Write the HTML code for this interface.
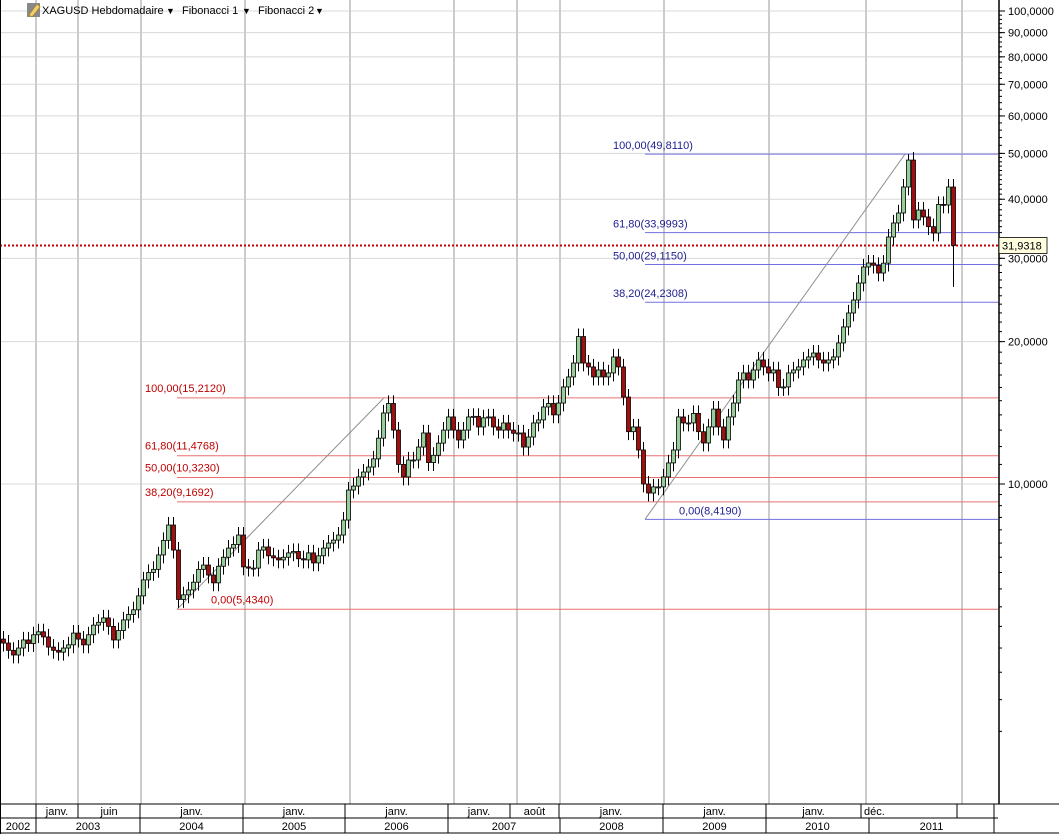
<!DOCTYPE html>
<html><head><meta charset="utf-8">
<style>
html,body{margin:0;padding:0;background:#fff;}
svg{display:block;font-family:"Liberation Sans",sans-serif;}
</style></head>
<body>
<svg id="chart" width="1059" height="834" viewBox="0 0 1059 834" xmlns="http://www.w3.org/2000/svg">
<rect width="1059" height="834" fill="#fff"/>
<g id="grid"></g>
<g id="fibs"></g>
<g id="candles"></g>
<g id="axes"></g>
<g>
  <rect x="27" y="3" width="13" height="14" fill="#888"/>
  <polygon points="29,15 37,4 40,7 32,17" fill="#f0d070" stroke="#b08020" stroke-width="0.7"/>
  <text x="42" y="14" font-size="11" fill="#000">XAGUSD Hebdomadaire</text>
  <text x="166" y="14" font-size="9" fill="#000">▼</text>
  <text x="182" y="14" font-size="11" fill="#000">Fibonacci 1</text>
  <text x="242" y="14" font-size="9" fill="#000">▼</text>
  <text x="258" y="14" font-size="11" fill="#000">Fibonacci 2</text>
  <text x="315" y="14" font-size="9" fill="#000">▼</text>
</g>
</svg>
<script>
// weekly-ish closes (USD/oz), evenly spaced
const closes = [4.61,4.45,4.35,4.5,4.68,4.6,4.8,4.87,4.75,4.52,4.45,4.41,4.5,4.57,4.84,4.7,4.57,4.8,5.03,5.1,
5.21,5.0,4.68,4.9,5.16,5.3,5.42,5.8,6.27,6.5,6.6,7.08,7.6,8.19,7.25,5.7,5.83,5.97,6.2,6.6,
6.74,6.42,6.18,6.7,7.0,7.32,7.45,7.8,6.68,6.64,6.64,7.25,7.36,7.05,6.98,6.91,7.0,7.15,7.2,6.95,
6.91,7.15,6.81,7.05,7.32,7.5,7.61,7.8,8.39,9.71,9.9,10.35,10.6,10.86,11.3,12.5,14.13,14.8,13.0,11.0,
10.35,11.24,11.24,11.97,12.82,11.1,11.5,12.2,13.0,13.86,13.0,12.39,13.0,13.86,13.9,13.2,13.8,13.86,13.2,13.0,
13.46,13.0,12.8,12.82,11.97,12.57,13.46,13.66,14.55,14.8,14.0,14.83,16.04,16.84,18.02,20.5,18.02,17.68,16.84,17.42,
16.84,17.17,18.56,17.68,15.27,12.9,13.2,11.8,10.0,9.57,9.86,9.86,10.35,11.08,11.8,13.86,13.46,13.46,14.1,12.9,
12.21,13.2,14.4,13.2,12.39,13.86,14.83,16.59,17.17,16.59,17.42,18.29,17.68,17.17,17.42,16.0,16.04,17.17,17.42,17.68,
18.29,18.56,18.92,18.29,18.02,18.29,18.56,19.87,21.48,22.99,24.49,26.6,28.76,29.32,29.0,27.93,29.3,33.28,35.63,37.41,
42.45,48.4,36.16,37.95,36.69,35.0,33.93,39.0,38.89,42.45,31.93];
const firstOpen = 4.7;
const lastLow = 26.1;
const peakHigh = 49.811;
const priceTicks = [100,90,80,70,60,50,40,30,20,10];
const tickLabels = ["100,0000","90,0000","80,0000","70,0000","60,0000","50,0000","40,0000","30,0000","20,0000","10,0000"];
const fib1Levels = ["100,00","61,80","50,00","38,20","0,00"];
const fib1Prices = [15.212,11.4768,10.323,9.1692,5.434];
const fib2Levels = ["100,00","61,80","50,00","38,20","0,00"];
const fib2Prices = [49.811,33.9993,29.115,24.2308,8.419];
const lastPrice = 31.9318;
const monthLabels = ["janv.","juin","janv.","janv.","janv.","janv.","août","janv.","janv.","janv.","déc.",""];
const monthBounds = [36,78,140,243,345,448,510,559,663,766,861,957,994];
const yearLabels = ["2002","2003","2004","2005","2006","2007","2008","2009","2010","2011"];
const yearBounds = [0,36,140,243,345,448,560,663,766,869,994];
const gridX = [36,78,141,245,350,454,517,560,664,769,866,962];

const NS="http://www.w3.org/2000/svg";
function y(v){return 484-473*Math.log10(v/10);}
function xi(i){return 1.5+i*5;}
function mk(tag,attrs,parent,txt){const e=document.createElementNS(NS,tag);for(const k in attrs)e.setAttribute(k,attrs[k]);if(txt!==undefined)e.textContent=txt;parent.appendChild(e);return e;}
const grid=document.getElementById('grid'),fibs=document.getElementById('fibs'),cg=document.getElementById('candles'),ax=document.getElementById('axes');
const R=998,B=804;
priceTicks.forEach(v=>{const l=mk('line',{x1:0,x2:R,y1:y(v),y2:y(v),stroke:'#d8d8d8','stroke-width':1},grid);

});
gridX.forEach(x=>{const l=mk('line',{x1:x,x2:x,y1:0,y2:B,stroke:'#cccccc','stroke-width':2},grid);

});
// fib 1
const f1x=177,f1lx=145;
fib1Prices.forEach((p,i)=>{const yy=y(p);
const l=mk('line',{x1:f1x,x2:R,y1:yy,y2:yy,stroke:'#e87070','stroke-width':1},fibs);


const lx=i===4?211:f1lx;
const t=mk('text',{x:lx,y:yy-6,'font-size':11,fill:'#c00000'},fibs,fib1Levels[i]+"("+p.toFixed(4).replace('.',',')+")");

});
const d1=mk('line',{x1:f1x,y1:y(fib1Prices[4]),x2:384,y2:y(fib1Prices[0]),stroke:'#909090','stroke-width':1},fibs);


const f2x=645;
fib2Prices.forEach((p,i)=>{const yy=y(p);
const l=mk('line',{x1:f2x,x2:R,y1:yy,y2:yy,stroke:'#7070e0','stroke-width':1},fibs);


const lx=i===4?679:613;
const t=mk('text',{x:lx,y:yy-5,'font-size':11,fill:'#202090'},fibs,fib2Levels[i]+"("+p.toFixed(4).replace('.',',')+")");

});
const d2=mk('line',{x1:f2x,y1:y(fib2Prices[4]),x2:905,y2:y(fib2Prices[0]),stroke:'#909090','stroke-width':1},fibs);


// candles
const maxC=Math.max(...closes);
closes.forEach((c,i)=>{const o=i===0?firstOpen:closes[i-1];const x=xi(i);
let hi=Math.max(o,c)*1.04,lo=Math.min(o,c)*0.96;
if(i===closes.length-1)lo=lastLow;
if(c===maxC)hi=peakHigh;
const w=mk('line',{x1:x+2,x2:x+2,y1:y(hi),y2:y(lo),stroke:'#000','stroke-width':1},cg);


const top=y(Math.max(o,c)),bot=y(Math.min(o,c));
const r=mk('rect',{x:x,y:top,width:4,height:Math.max(1,bot-top),fill:c>=o?'#98cc98':'#a01010',stroke:'#000','stroke-width':0.8},cg);

});
// last price line
const lp=mk('line',{x1:0,x2:R,y1:y(lastPrice),y2:y(lastPrice),stroke:'#c00000','stroke-width':2,'stroke-dasharray':'2,2'},fibs);


// right axis
mk('rect',{x:R,y:0,width:61,height:834,fill:'#fff'},ax);
mk('line',{x1:R+1,x2:R+1,y1:0,y2:834,stroke:'#000','stroke-width':1.5},ax);
for(let v=3;v<=100;v+=(v<10?0.5:v<50?1:2)){mk('line',{x1:R+1,x2:R+4,y1:y(v),y2:y(v),stroke:'#000','stroke-width':1},ax);}
priceTicks.forEach((v,i)=>{mk('line',{x1:R+1,x2:R+7,y1:y(v),y2:y(v),stroke:'#000'},ax);
const t=mk('text',{x:R+10,y:y(v)+4,'font-size':11,fill:'#000'},ax,tickLabels[i]);

});
const lb=mk('g',{},ax);


mk('rect',{x:R+1,y:y(lastPrice)-8,width:48,height:16,fill:'#ffffe0',stroke:'#000','stroke-width':0.8},lb);
mk('text',{x:R+4,y:y(lastPrice)+4,'font-size':11,fill:'#000'},lb,String(lastPrice).replace('.',','));
// bottom axis
mk('rect',{x:0,y:B,width:1059,height:30,fill:'#fff'},ax);
mk('line',{x1:0,x2:1059,y1:B,y2:B,stroke:'#000'},ax);
mk('line',{x1:0,x2:R,y1:818,y2:818,stroke:'#000'},ax);
mk('line',{x1:0,x2:1059,y1:833,y2:833,stroke:'#000'},ax);
mk('line',{x1:0.5,x2:0.5,y1:0,y2:834,stroke:'#000'},ax);
monthBounds.forEach(x=>mk('line',{x1:x,x2:x,y1:B,y2:818,stroke:'#000'},ax));
yearBounds.forEach(x=>mk('line',{x1:x,x2:x,y1:818,y2:833,stroke:'#000'},ax));
monthLabels.forEach((m,i)=>{const a=monthBounds[i],b=monthBounds[i+1];
const isDec=m==="déc.";
const t=mk('text',{x:isDec?a+3:(a+b)/2,y:815,'font-size':11,fill:'#000','text-anchor':isDec?'start':'middle'},ax,m);

});
yearLabels.forEach((m,i)=>{const a=yearBounds[i],b=yearBounds[i+1];
const t=mk('text',{x:(a+b)/2,y:830,'font-size':11,fill:'#000','text-anchor':'middle'},ax,m);

});
</script>
</body></html>
